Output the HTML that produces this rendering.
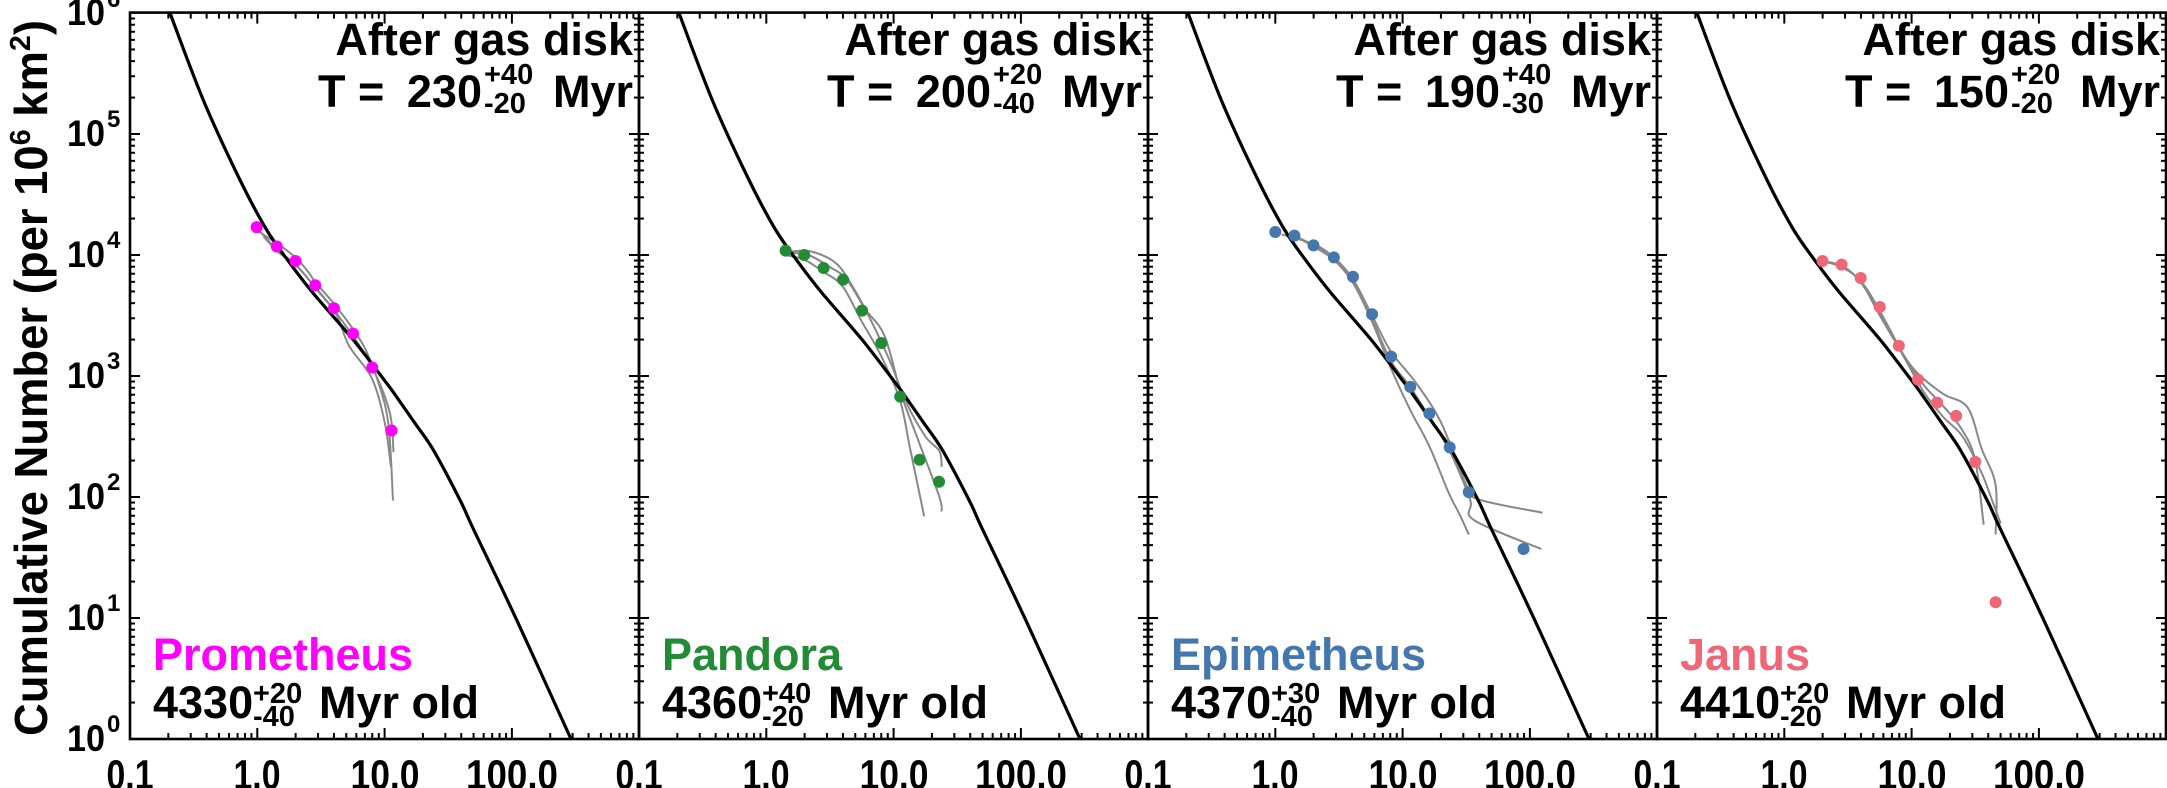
<!DOCTYPE html>
<html><head><meta charset="utf-8"><style>
html,body{margin:0;padding:0;background:#fff;}
svg{display:block;}
text{font-family:"Liberation Sans",Arial,sans-serif;font-weight:bold;}
</style></head><body>
<svg id="s" width="2167" height="788" viewBox="0 0 2167 788" xmlns="http://www.w3.org/2000/svg">
<g id="plot"></g>
<!-- Y axis title -->
<text transform="translate(47,378) rotate(-90)" text-anchor="middle" font-size="46" textLength="716" lengthAdjust="spacingAndGlyphs">Cumulative Number (per 10<tspan dy="-17" font-size="29">6</tspan><tspan dy="17"> km</tspan><tspan dy="-17" font-size="29">2</tspan><tspan dy="17">)</tspan></text>
<!-- Y tick labels -->
<g font-size="37" text-anchor="end">
<text x="105" y="25" textLength="38" lengthAdjust="spacingAndGlyphs">10</text><text x="107" y="7" font-size="24" text-anchor="start">6</text>
<text x="105" y="146" textLength="38" lengthAdjust="spacingAndGlyphs">10</text><text x="107" y="127" font-size="24" text-anchor="start">5</text>
<text x="105" y="267" textLength="38" lengthAdjust="spacingAndGlyphs">10</text><text x="107" y="248" font-size="24" text-anchor="start">4</text>
<text x="105" y="388" textLength="38" lengthAdjust="spacingAndGlyphs">10</text><text x="107" y="369" font-size="24" text-anchor="start">3</text>
<text x="105" y="509" textLength="38" lengthAdjust="spacingAndGlyphs">10</text><text x="107" y="490" font-size="24" text-anchor="start">2</text>
<text x="105" y="630" textLength="38" lengthAdjust="spacingAndGlyphs">10</text><text x="107" y="611" font-size="24" text-anchor="start">1</text>
<text x="105" y="751" textLength="38" lengthAdjust="spacingAndGlyphs">10</text><text x="107" y="732" font-size="24" text-anchor="start">0</text>
</g>
<!-- Panel annotations -->
<g transform="translate(130,0)" font-size="45">
<text x="503" y="55" text-anchor="end">After gas disk</text>
<text x="188" y="107">T =</text><text x="352" y="107" text-anchor="end">230</text>
<text x="354" y="84" font-size="29">+40</text><text x="354" y="113" font-size="29">-20</text>
<text x="503" y="107" text-anchor="end">Myr</text>
<text x="23" y="670" fill="#ff00ff">Prometheus</text>
<text x="23" y="718">4330</text><text x="123" y="703" font-size="29">+20</text><text x="123" y="726" font-size="29">-40</text>
<text x="189" y="718">Myr old</text>
</g>
<g transform="translate(639,0)" font-size="45">
<text x="503" y="55" text-anchor="end">After gas disk</text>
<text x="188" y="107">T =</text><text x="352" y="107" text-anchor="end">200</text>
<text x="354" y="84" font-size="29">+20</text><text x="354" y="113" font-size="29">-40</text>
<text x="503" y="107" text-anchor="end">Myr</text>
<text x="23" y="670" fill="#228b33">Pandora</text>
<text x="23" y="718">4360</text><text x="123" y="703" font-size="29">+40</text><text x="123" y="726" font-size="29">-20</text>
<text x="189" y="718">Myr old</text>
</g>
<g transform="translate(1148,0)" font-size="45">
<text x="503" y="55" text-anchor="end">After gas disk</text>
<text x="188" y="107">T =</text><text x="352" y="107" text-anchor="end">190</text>
<text x="354" y="84" font-size="29">+40</text><text x="354" y="113" font-size="29">-30</text>
<text x="503" y="107" text-anchor="end">Myr</text>
<text x="23" y="670" fill="#4377ad">Epimetheus</text>
<text x="23" y="718">4370</text><text x="123" y="703" font-size="29">+30</text><text x="123" y="726" font-size="29">-40</text>
<text x="189" y="718">Myr old</text>
</g>
<g transform="translate(1657,0)" font-size="45">
<text x="503" y="55" text-anchor="end">After gas disk</text>
<text x="188" y="107">T =</text><text x="352" y="107" text-anchor="end">150</text>
<text x="354" y="84" font-size="29">+20</text><text x="354" y="113" font-size="29">-20</text>
<text x="503" y="107" text-anchor="end">Myr</text>
<text x="23" y="670" fill="#ef6677">Janus</text>
<text x="23" y="718">4410</text><text x="123" y="703" font-size="29">+20</text><text x="123" y="726" font-size="29">-20</text>
<text x="189" y="718">Myr old</text>
</g>
<g font-size="42" text-anchor="middle">
<text x="130" y="789" textLength="47" lengthAdjust="spacingAndGlyphs">0.1</text><text x="257" y="789" textLength="47" lengthAdjust="spacingAndGlyphs">1.0</text><text x="385" y="789" textLength="69" lengthAdjust="spacingAndGlyphs">10.0</text><text x="512" y="789" textLength="92" lengthAdjust="spacingAndGlyphs">100.0</text>
<text x="639" y="789" textLength="47" lengthAdjust="spacingAndGlyphs">0.1</text><text x="766" y="789" textLength="47" lengthAdjust="spacingAndGlyphs">1.0</text><text x="894" y="789" textLength="69" lengthAdjust="spacingAndGlyphs">10.0</text><text x="1021" y="789" textLength="92" lengthAdjust="spacingAndGlyphs">100.0</text>
<text x="1148" y="789" textLength="47" lengthAdjust="spacingAndGlyphs">0.1</text><text x="1275" y="789" textLength="47" lengthAdjust="spacingAndGlyphs">1.0</text><text x="1403" y="789" textLength="69" lengthAdjust="spacingAndGlyphs">10.0</text><text x="1530" y="789" textLength="92" lengthAdjust="spacingAndGlyphs">100.0</text>
<text x="1657" y="789" textLength="47" lengthAdjust="spacingAndGlyphs">0.1</text><text x="1784" y="789" textLength="47" lengthAdjust="spacingAndGlyphs">1.0</text><text x="1912" y="789" textLength="69" lengthAdjust="spacingAndGlyphs">10.0</text><text x="2039" y="789" textLength="92" lengthAdjust="spacingAndGlyphs">100.0</text>
</g>
</svg>
<script>
(function(){
var NS="http://www.w3.org/2000/svg",g=document.getElementById("plot");
var T=12.6,B=739,DX=127.3,DY=121,W=509;
function el(n,a){var e=document.createElementNS(NS,n);for(var k in a)e.setAttribute(k,a[k]);g.appendChild(e);return e;}
function path(L,pts,st,sw){
  var P=pts.map(function(p){return [L+p[0]*DX,B-p[1]*DY];});
  var d="M"+P[0][0].toFixed(1)+","+P[0][1].toFixed(1);
  for(var i=0;i<P.length-1;i++){
    var p0=P[i-1]||P[i],p1=P[i],p2=P[i+1],p3=P[i+2]||p2;
    var c1=[p1[0]+(p2[0]-p0[0])/6,p1[1]+(p2[1]-p0[1])/6],c2=[p2[0]-(p3[0]-p1[0])/6,p2[1]-(p3[1]-p1[1])/6];
    d+=" C"+c1[0].toFixed(1)+","+c1[1].toFixed(1)+" "+c2[0].toFixed(1)+","+c2[1].toFixed(1)+" "+p2[0].toFixed(1)+","+p2[1].toFixed(1);
  }
  el("path",{d:d,fill:"none",stroke:st,"stroke-width":sw,"stroke-linejoin":"round"});
}
var black=[[0.314,6.0],[0.576,5.28],[0.864,4.62],[1.074,4.207],[1.257,3.931],[1.44,3.683],[1.754,3.298],[2.017,2.939],[2.095,2.826],[2.24,2.607],[2.383,2.388],[2.592,1.975],[2.694,1.744],[3.048,0.96],[3.464,0]];
var panels=[
 {c:"#ff00ff",u:[0.995,1.153,1.300,1.455,1.602,1.752,1.903,2.054],v:[4.23,4.07,3.95,3.75,3.56,3.35,3.07,2.55],
  g:[[[1.0,4.20],[1.15,4.10],[1.30,3.98],[1.40,3.86],[1.46,3.77],[1.60,3.60],[1.75,3.39],[1.85,3.22],[1.95,2.95],[2.03,2.60],[2.066,1.97]],
     [[1.0,4.22],[1.15,4.05],[1.30,3.92],[1.45,3.74],[1.60,3.55],[1.75,3.33],[1.90,3.08],[2.04,2.70],[2.07,2.37]],
     [[1.05,4.15],[1.17,4.02],[1.32,3.90],[1.47,3.71],[1.62,3.51],[1.72,3.25],[1.90,2.98],[2.00,2.62],[2.05,2.25]]]},
 {c:"#228b33",u:[1.152,1.298,1.450,1.603,1.752,1.904,2.052,2.204,2.357],v:[4.036,4.000,3.893,3.796,3.540,3.273,2.829,2.308,2.126],
  g:[[[1.15,4.00],[1.30,3.96],[1.45,3.86],[1.60,3.74],[1.75,3.45],[1.90,3.17],[2.05,2.80],[2.13,2.40],[2.24,1.84]],
     [[1.17,4.02],[1.33,4.00],[1.50,3.90],[1.63,3.80],[1.78,3.55],[1.93,3.33],[2.06,2.85],[2.20,2.45],[2.36,2.00],[2.378,1.88]],
     [[1.2,4.03],[1.35,4.03],[1.55,3.93],[1.70,3.70],[1.85,3.40],[1.98,3.10],[2.10,2.78],[2.25,2.50],[2.36,2.38],[2.378,2.25]]]},
 {c:"#4377ad",u:[1.00,1.15,1.30,1.46,1.61,1.76,1.91,2.06,2.21,2.37,2.52,2.95],v:[4.19,4.16,4.08,3.98,3.82,3.51,3.16,2.91,2.69,2.41,2.04,1.57],
  g:[[[1.05,4.17],[1.30,4.09],[1.46,3.98],[1.61,3.80],[1.76,3.50],[1.91,3.20],[2.10,2.95],[2.30,2.62],[2.50,2.10],[2.60,1.98],[3.10,1.87]],
     [[1.15,4.16],[1.30,4.08],[1.46,3.97],[1.61,3.80],[1.76,3.47],[1.91,3.12],[2.06,2.91],[2.21,2.66],[2.37,2.38],[2.53,1.98],[2.56,1.81],[3.09,1.57]],
     [[1.15,4.16],[1.30,4.07],[1.46,3.96],[1.61,3.77],[1.76,3.45],[1.91,3.06],[2.06,2.72],[2.21,2.42],[2.36,2.04],[2.45,1.85],[2.52,1.69]]]},
 {c:"#ef6677",u:[1.30,1.45,1.60,1.75,1.90,2.05,2.20,2.35,2.50,2.66],v:[3.95,3.92,3.81,3.57,3.25,2.97,2.78,2.67,2.29,1.13],
  g:[[[1.30,3.95],[1.45,3.90],[1.60,3.78],[1.75,3.50],[1.92,3.20],[2.05,3.02],[2.25,2.85],[2.44,2.74],[2.55,2.40],[2.66,2.10],[2.66,1.69]],
     [[1.30,3.95],[1.45,3.91],[1.62,3.76],[1.78,3.48],[1.95,3.15],[2.10,2.92],[2.25,2.75],[2.40,2.55],[2.50,2.30],[2.566,1.77]],
     [[1.35,3.94],[1.50,3.88],[1.65,3.70],[1.80,3.42],[1.97,3.10],[2.10,2.86],[2.25,2.66],[2.40,2.50],[2.55,2.20],[2.64,1.95],[2.70,1.78]]]}
];
for(var i=0;i<4;i++){
  var L=130+i*W,R=L+W,P=panels[i];
  el("rect",{x:L,y:T,width:W,height:B-T,fill:"none",stroke:"#000","stroke-width":2.6});
  for(var dcd=0;dcd<6;dcd++){for(var m=1;m<=9;m++){
    var y=B-(dcd+Math.log10(m))*DY;var len=m==1?10:5;
    el("line",{x1:L,x2:L+len,y1:y,y2:y,stroke:"#000","stroke-width":2});
    el("line",{x1:R-len,x2:R,y1:y,y2:y,stroke:"#000","stroke-width":2});
  }}
  for(var dcd=0;dcd<4;dcd++){for(var m=1;m<=9;m++){
    var x=L+(dcd+Math.log10(m))*DX;var len=m==1?11:6;
    el("line",{x1:x,x2:x,y1:B,y2:B-len,stroke:"#000","stroke-width":2});
    el("line",{x1:x,x2:x,y1:T,y2:T+len,stroke:"#000","stroke-width":2});
  }}
  P.g.forEach(function(s){path(L,s,"#888",2);});
  path(L,black,"#000",3.2);
  for(var k=0;k<P.u.length;k++){
    el("circle",{cx:L+P.u[k]*DX,cy:B-P.v[k]*DY,r:6,fill:P.c});
  }
}
})();
</script>
</body></html>
